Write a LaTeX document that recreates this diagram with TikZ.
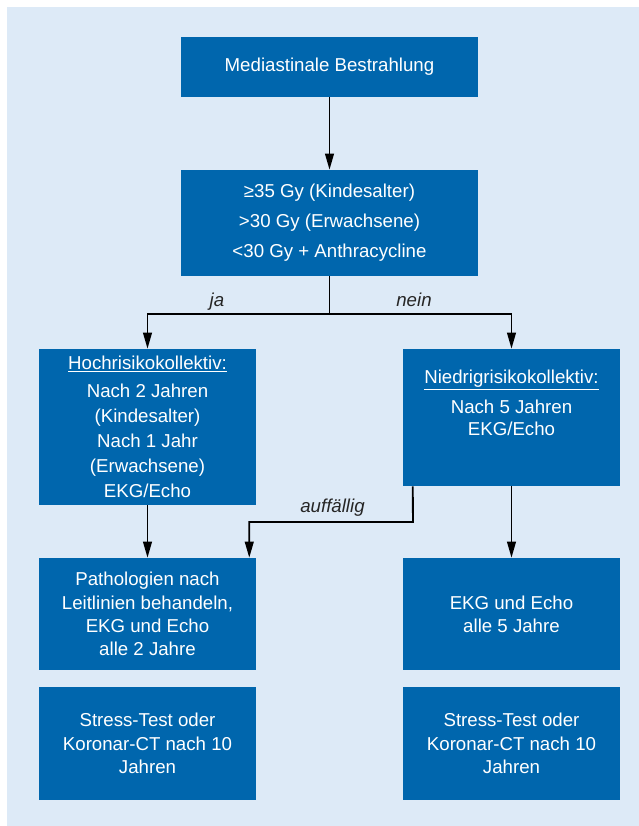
\documentclass[tikz,border=0pt]{standalone}
\usepackage{fontspec}
\setmainfont{Liberation Sans}
\usetikzlibrary{arrows.meta}
\definecolor{boxblue}{RGB}{0,102,173}
\definecolor{bgblue}{RGB}{221,234,247}
\newcommand{\px}{0.75pt}
\newcommand{\wideW}{297}
\newcommand{\sideW}{217}

\begin{document}
\begin{tikzpicture}[x=0.75pt,y=-0.75pt,
    flowbox/.style={fill=boxblue, text=white, align=center, inner sep=0pt,
        font=\fontsize{14}{17.5}\selectfont},
    arr/.style={-{Triangle[width=6.5pt,length=12pt]}, line width=1.4pt, black},
    lbl/.style={font=\fontsize{14}{17}\selectfont\itshape, text=black!85, anchor=base}]

        % Background and page size
        \useasboundingbox (0,0) rectangle (639,826);
        \fill[bgblue] (7,7) rectangle (639,826);

        % Top of the chart
        \node[flowbox, minimum width=\wideW*\px, minimum height=60*\px] (start) at (329.5,67)
            {Mediastinale Bestrahlung};
        \node[flowbox, minimum width=\wideW*\px, minimum height=106*\px,
              font=\fontsize{14}{22.5}\selectfont] (dose) at (329.5,223)
            {≥35 Gy (Kindesalter)\\>30 Gy (Erwachsene)\\<30 Gy + Anthracycline};

        % Risk groups
        \node[flowbox, minimum width=\sideW*\px, minimum height=156*\px,
              font=\fontsize{14}{18.75}\selectfont] (high) at (147.5,427)
            {\underline{Hochrisikokollektiv:}\\[2.25pt]Nach 2 Jahren\\(Kindesalter)\\Nach 1 Jahr\\(Erwachsene)\\EKG/Echo};
        \node[flowbox, minimum width=\sideW*\px, minimum height=137*\px,
              font=\fontsize{14}{16.5}\selectfont] (low) at (511.5,417.5)
            {\underline{Niedrigrisikokollektiv:}\\[6pt]Nach 5 Jahren\\EKG/Echo\\[6pt]\mbox{}};

        % Follow-up
        \node[flowbox, minimum width=\sideW*\px, minimum height=112*\px] (patho) at (147.5,614)
            {Pathologien nach\\Leitlinien behandeln,\\EKG und Echo\\alle 2 Jahre};
        \node[flowbox, minimum width=\sideW*\px, minimum height=112*\px] (echo) at (511.5,614)
            {EKG und Echo\\alle 5 Jahre};

        % Late screening
        \node[flowbox, minimum width=\sideW*\px, minimum height=113*\px] (stressL) at (147.5,743.5)
            {Stress-Test oder\\Koronar-CT nach 10\\Jahren};
        \node[flowbox, minimum width=\sideW*\px, minimum height=113*\px] (stressR) at (511.5,743.5)
            {Stress-Test oder\\Koronar-CT nach 10\\Jahren};

        % Connectors
        \coordinate (split) at (329.5,314);
        \coordinate (bend) at (413,522);
        \draw[arr] (start) -- (dose);
        \draw[line width=1.4pt] (dose) -- (split);
        \draw[arr] (split) -| (high);
        \draw[arr] (split) -| (low);
        \draw[arr] (high) -- (patho);
        \draw[arr] (low) -- (echo);
        \draw[arr] ([xshift=10*\px]low.south west) -- (bend) -| ([xshift=-7*\px]patho.north east);

        % Branch labels
        \node[lbl] (ja) at (217,306) {ja};
        \node[lbl] (nein) at (414,306) {nein};
        \node[lbl] (odd) at (332.5,512) {auffällig};
    \end{tikzpicture}
\end{document}
